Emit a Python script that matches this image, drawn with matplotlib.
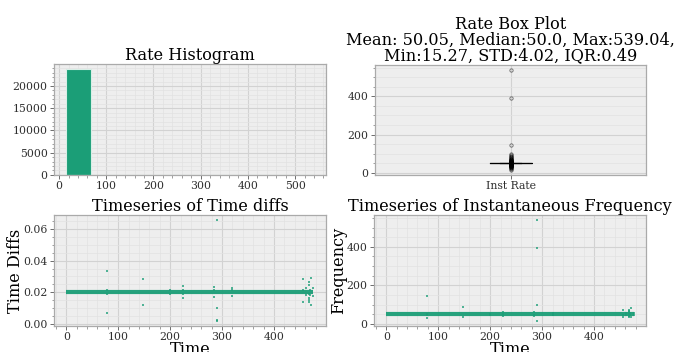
import numpy as np
import matplotlib
matplotlib.use("Agg")
import matplotlib.pyplot as plt
from matplotlib.ticker import AutoMinorLocator, MultipleLocator

# ---------------- data ----------------
# Histogram of instantaneous rate (10 bins between min and max)
rate_min = 15.27
rate_max = 539.04
hist_counts = [23735, 5, 1, 0, 0, 0, 0, 1, 0, 1]

# Box plot statistics
box_mean = 50.05
box_median = 50.0
box_q1 = 49.76
box_q3 = 50.25
box_std = 4.02
box_iqr = 0.49
box_whislo = 49.03
box_whishi = 50.98
near_band_rates = [22, 25, 28, 31, 33, 36, 38, 40, 42, 43, 44, 45, 46, 47, 47.5, 48, 48.5,
                   51.5, 52, 52.5, 53, 54, 55, 56, 57, 58, 60, 62, 64, 66, 68, 75, 80, 88, 92]

# Time-diff series: nominal sampling interval over the whole recording, plus deviating samples
base_start = 0.0
base_end = 476.0
base_diff = 0.02
out_times = [79, 79, 79, 79, 146.7, 146.7, 200, 200, 225, 225, 225, 225,
             284.5, 284.5, 284.5, 290, 290, 290, 290, 320, 320, 320,
             456, 456, 456, 462, 462, 467, 467, 467, 467, 467, 467,
             470, 470, 472, 472, 476, 476]
out_diffs = [0.0334, 0.0069, 0.0216, 0.0186, 0.0281, 0.0117, 0.0212, 0.0189,
             0.0240, 0.0164, 0.0215, 0.0187, 0.0235, 0.0168, 0.0214,
             0.06549, 0.0100, 0.002538, 0.001855, 0.0224, 0.0178, 0.0213,
             0.0281, 0.0136, 0.0215, 0.0230, 0.0180,
             0.0262, 0.0249, 0.0189, 0.0166, 0.0140, 0.0150,
             0.0215, 0.0185, 0.0287, 0.0120, 0.0228, 0.0174]

# ---------------- style ----------------
plt.rcParams['font.family'] = ['DejaVu Serif']
GREEN = '#1b9e77'
FACE = '#eeeeee'
TXT = '#2e2e2e'
TICK = 7.8
TS = 11.6


def style(ax):
    ax.set_facecolor(FACE)
    ax.xaxis.set_minor_locator(AutoMinorLocator())
    ax.yaxis.set_minor_locator(AutoMinorLocator())
    ax.grid(True, which='major', color='#d2d2d2', linewidth=0.8)
    ax.grid(True, which='minor', color='#e2e2e2', linewidth=0.5)
    ax.set_axisbelow(True)
    for s in ax.spines.values():
        s.set_color('#aaaaaa')
        s.set_linewidth(0.9)
    ax.tick_params(which='major', labelsize=TICK, colors='#555555', labelcolor=TXT,
                   length=3, width=0.6, pad=1.5)
    ax.tick_params(which='minor', colors='#777777', length=1.8, width=0.5)


fig = plt.figure(figsize=(6.78, 3.52), dpi=100)
fig.patch.set_facecolor('white')

ax1 = fig.add_axes([0.0796, 0.503, 0.401, 0.315])
ax2 = fig.add_axes([0.553, 0.503, 0.400, 0.313])
ax3 = fig.add_axes([0.0796, 0.074, 0.401, 0.315])
ax4 = fig.add_axes([0.5516, 0.074, 0.401, 0.315])
for a in (ax1, ax2, ax3, ax4):
    style(a)

# Histogram
edges = np.linspace(rate_min, rate_max, len(hist_counts) + 1)
ax1.hist(edges[:-1], bins=edges, weights=hist_counts, color=GREEN,
         edgecolor='#d8eee6', linewidth=0.8)
ax1.set_xlim(-10.9, 565.2)
ax1.yaxis.set_major_locator(MultipleLocator(5000))
ax1.yaxis.set_minor_locator(AutoMinorLocator())
ax1.set_title('Rate Histogram', fontsize=TS, pad=3)

# Box plot
rate_out = list(1.0 / np.array(out_diffs)) + near_band_rates
stats = [dict(med=box_median, q1=box_q1, q3=box_q3, whislo=box_whislo,
              whishi=box_whishi, fliers=rate_out, mean=box_mean, label='Inst Rate')]
ax2.bxp(stats, widths=0.155, showmeans=False,
        boxprops=dict(color='black', linewidth=0.8),
        medianprops=dict(color='black', linewidth=0.8),
        whiskerprops=dict(color='black', linewidth=0.8),
        capprops=dict(color='black', linewidth=0.8),
        flierprops=dict(marker='o', markersize=2.4, markerfacecolor='none',
                        markeredgecolor='black', markeredgewidth=0.6, alpha=0.55))
ax2.set_xlim(0.5, 1.5)
ax2.xaxis.set_minor_locator(plt.NullLocator())
ax2.set_title('Rate Box Plot\nMean: %.2f, Median:%.1f, Max:%.2f,\nMin:%.2f, STD:%.2f, IQR:%.2f'
              % (box_mean, box_median, rate_max, rate_min, box_std, box_iqr),
              fontsize=TS, pad=3, linespacing=0.92)

# Time diffs timeseries
ax3.plot([base_start, base_end], [base_diff, base_diff], color=GREEN, linewidth=3, alpha=0.95,
         solid_capstyle='butt')
ax3.plot(out_times, out_diffs, linestyle='none', marker='s', markersize=1.6,
         color=GREEN, alpha=0.75, markeredgewidth=0)
ax3.set_xlim(-23.8, 499.8)
ax3.set_ylim(-0.0013, 0.0688)
ax3.set_title('Timeseries of Time diffs', fontsize=TS, pad=3)
ax3.set_xlabel('Time', fontsize=TS, labelpad=-1)
ax3.set_ylabel('Time Diffs', fontsize=TS, labelpad=-0.5)

# Frequency timeseries
ax4.plot([base_start, base_end], [1.0 / base_diff, 1.0 / base_diff], color=GREEN, linewidth=3,
         alpha=0.95, solid_capstyle='butt')
ax4.plot(out_times, 1.0 / np.array(out_diffs), linestyle='none', marker='s', markersize=1.6,
         color=GREEN, alpha=0.75, markeredgewidth=0)
ax4.set_xlim(-23.8, 499.8)
ax4.set_ylim(-10.9, 565.2)
ax4.set_title('Timeseries of Instantaneous Frequency', fontsize=TS, pad=3)
ax4.set_xlabel('Time', fontsize=TS, labelpad=-1)
ax4.set_ylabel('Frequency', fontsize=TS, labelpad=-0.5)

fig.savefig('out.png', dpi=100)
